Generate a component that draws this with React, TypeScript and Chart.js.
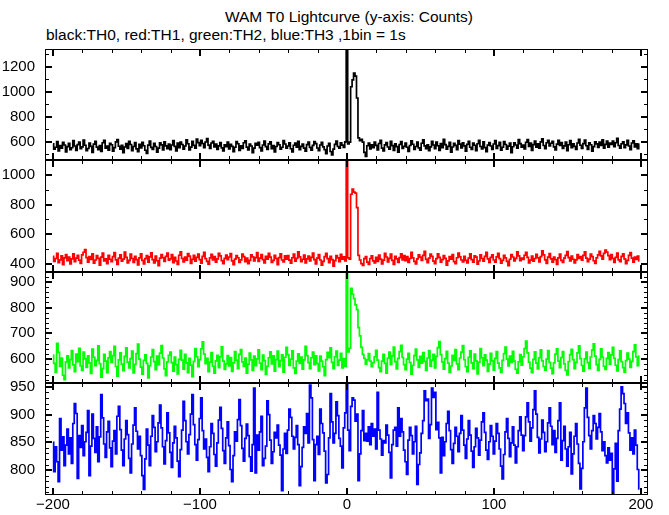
import React, { useEffect, useRef } from "react";
import { Chart, registerables } from "chart.js";

Chart.register(...registerables);

const TITLE = "WAM T0 Lightcurve (y-axis: Counts)";
const SUBTITLE = "black:TH0, red:TH1, green:TH2, blue:TH3 ,1bin = 1s";

const START_TIME = -200;
const BIN_COUNT = 400;
const times: number[] = Array.from({ length: BIN_COUNT }, (_, i) => START_TIME + i);

// TH0 (black) counts per 1 s bin, t = -200 .. 199
const th0: number[] = [
  583, 541, 556, 602, 527, 569, 548, 595, 574, 519, 561, 588, 537, 552, 609, 566, 531, 577, 598, 545,
  559, 613, 572, 528, 546, 590, 563, 514, 581, 604, 557, 536, 570, 523, 592, 611, 548, 565, 532, 587,
  576, 524, 553, 599, 618, 564, 540, 571, 512, 558, 585, 547, 603, 578, 529, 562, 594, 543, 521, 580,
  551, 596, 568, 532, 507, 573, 606, 555, 538, 587, 562, 516, 549, 591, 575, 534, 600, 567, 544, 582,
  537, 574, 610, 563, 526, 589, 552, 597, 578, 541, 566, 616, 584, 535, 557, 603, 571, 548, 622, 593,
  569, 611, 586, 552, 598, 625, 573, 546, 590, 604, 558, 581, 539, 567, 594, 551, 527, 576, 560, 598,
  542, 579, 563, 521, 556, 601, 584, 530, 568, 547, 592, 608, 557, 534, 581, 566, 513, 549, 587, 572,
  595, 553, 527, 574, 606, 561, 538, 583, 599, 545, 570, 519, 562, 593, 576, 540, 556, 610, 582, 548,
  566, 591, 544, 518, 572, 589, 557, 604, 536, 563, 581, 549, 524, 577, 598, 555, 533, 571, 602, 585,
  550, 528, 574, 596, 559, 537, 504, 566, 588, 522, 495, 541, 579, 605, 562, 548, 591, 573, 554, 599,
  6000, 582, 597, 1040, 1095, 1150, 1125, 950, 631, 608, 619, 597, 515, 482, 568, 590, 543, 576, 552, 598,
  571, 535, 586, 612, 549, 527, 575, 593, 558, 541, 604, 569, 530, 584, 561, 517, 578, 601, 546, 563,
  589, 556, 523, 570, 607, 580, 539, 562, 597, 551, 533, 588, 615, 567, 544, 576, 529, 559, 603, 574,
  545, 598, 568, 531, 585, 552, 620, 577, 540, 563, 596, 516, 558, 587, 571, 536, 609, 581, 550, 592,
  567, 525, 579, 603, 556, 538, 590, 572, 528, 584, 611, 562, 543, 599, 553, 521, 573, 594, 566, 539,
  582, 610, 547, 569, 595, 533, 556, 601, 578, 541, 565, 589, 512, 560, 592, 574, 549, 617, 585, 557,
  574, 542, 596, 618, 563, 589, 531, 577, 605, 556, 583, 548, 599, 624, 570, 545, 592, 611, 566, 588,
  603, 559, 535, 581, 612, 571, 594, 546, 567, 598, 529, 576, 609, 552, 584, 563, 538, 590, 620, 572,
  547, 585, 613, 568, 539, 592, 576, 524, 561, 600, 583, 554, 597, 571, 615, 548, 579, 606, 557, 589,
  578, 606, 561, 592, 627, 570, 548, 584, 599, 553, 575, 612, 566, 536, 590, 607, 559, 583, 544, 581,
];

// TH1 (red)
const th1: number[] = [
  452, 418, 437, 471, 409, 428, 455, 396, 441, 463, 423, 447, 401, 434, 468, 415, 439, 458, 426, 404,
  461, 479, 497, 443, 412, 450, 431, 469, 405, 427, 456, 438, 392, 446, 473, 421, 435, 403, 459, 432,
  415, 449, 476, 428, 398, 440, 462, 419, 433, 480, 445, 407, 425, 466, 437, 411, 452, 429, 394, 441,
  468, 424, 401, 436, 457, 413, 448, 475, 430, 408, 454, 422, 389, 439, 464, 442, 417, 451, 474, 426,
  435, 463, 409, 444, 420, 397, 459, 482, 437, 414, 446, 426, 470, 453, 404, 431, 458, 419, 445, 467,
  430, 406, 452, 478, 436, 418, 399, 441, 465, 427, 449, 412, 434, 471, 455, 423, 402, 438, 460, 429,
  447, 470, 421, 395, 433, 456, 442, 410, 428, 467, 450, 416, 439, 403, 425, 461, 448, 420, 443, 476,
  418, 439, 464, 429, 407, 451, 433, 472, 446, 411, 424, 458, 437, 396, 443, 469, 427, 414, 455, 432,
  457, 426, 405, 442, 466, 419, 438, 481, 448, 415, 432, 460, 408, 435, 453, 421, 444, 474, 430, 401,
  440, 463, 427, 392, 418, 449, 471, 436, 409, 452, 430, 386, 423, 457, 441, 416, 465, 432, 448, 420,
  6000, 441, 433, 870, 905, 885, 878, 780, 458, 427, 403, 390, 436, 449, 412, 398, 437, 455, 421, 408,
  444, 418, 460, 433, 401, 426, 472, 447, 414, 438, 467, 424, 397, 452, 435, 410, 443, 469, 428, 456,
  422, 449, 411, 437, 479, 441, 417, 400, 434, 462, 446, 425, 458, 485, 431, 409, 440, 466, 452, 419,
  403, 436, 468, 445, 412, 429, 457, 438, 393, 421, 450, 433, 463, 416, 402, 442, 474, 448, 427, 414,
  451, 425, 407, 439, 468, 430, 413, 455, 446, 399, 420, 461, 437, 419, 452, 478, 434, 410, 444, 462,
  427, 413, 448, 471, 436, 405, 424, 459, 441, 417, 389, 432, 464, 447, 420, 438, 482, 455, 423, 440,
  431, 459, 478, 444, 408, 426, 453, 419, 437, 465, 442, 414, 449, 488, 461, 428, 404, 446, 470, 435,
  412, 447, 430, 398, 441, 466, 425, 411, 439, 458, 484, 443, 421, 454, 432, 407, 428, 463, 437, 450,
  426, 458, 481, 440, 415, 433, 467, 449, 422, 404, 441, 462, 486, 455, 433, 472, 493, 480, 456, 429,
  463, 437, 410, 445, 474, 428, 416, 451, 469, 435, 402, 424, 458, 476, 440, 413, 447, 431, 453, 420,
];

// TH2 (green)
const th2: number[] = [
  615, 583, 548, 661, 626, 571, 604, 537, 520, 589, 612, 566, 598, 633, 577, 551, 619, 590, 642, 573,
  556, 627, 601, 568, 612, 585, 544, 639, 607, 574, 595, 651, 582, 530, 563, 618, 592, 547, 605, 629,
  587, 613, 649, 571, 534, 597, 624, 580, 555, 610, 643, 588, 566, 602, 631, 546, 579, 621, 658, 600,
  569, 541, 595, 616, 583, 527, 574, 608, 637, 590, 559, 611, 578, 623, 652, 604, 562, 536, 589, 614,
  627, 586, 553, 608, 578, 542, 599, 634, 596, 561, 618, 585, 547, 603, 576, 532, 591, 641, 609, 570,
  598, 640, 667, 619, 582, 603, 551, 588, 625, 572, 545, 593, 614, 567, 609, 647, 592, 560, 581, 613,
  573, 606, 552, 585, 629, 596, 563, 618, 637, 589, 571, 604, 545, 580, 623, 597, 556, 611, 574, 601,
  636, 584, 559, 615, 594, 540, 572, 605, 628, 581, 612, 553, 598, 631, 570, 594, 616, 549, 607, 645,
  617, 575, 600, 632, 566, 544, 592, 620, 583, 608, 561, 597, 649, 613, 586, 563, 605, 627, 578, 612,
  582, 554, 611, 592, 570, 536, 598, 626, 605, 643, 587, 563, 609, 631, 575, 596, 622, 566, 602, 571,
  6000, 628, 642, 875, 852, 835, 810, 792, 722, 690, 645, 618, 603, 580, 597, 621, 592, 570, 586, 609,
  634, 596, 567, 551, 592, 618, 583, 545, 604, 627, 579, 612, 646, 590, 562, 603, 629, 653, 606, 578,
  559, 600, 622, 587, 541, 576, 613, 639, 597, 568, 610, 584, 625, 591, 556, 604, 633, 572, 596, 618,
  566, 610, 644, 668, 617, 589, 561, 602, 630, 584, 548, 573, 614, 595, 637, 581, 559, 604, 627, 652,
  598, 570, 551, 607, 632, 585, 563, 619, 593, 542, 588, 641, 605, 574, 616, 596, 552, 580, 622, 593,
  557, 603, 629, 584, 566, 548, 595, 621, 646, 600, 573, 611, 587, 630, 592, 560, 545, 589, 617, 576,
  609, 641, 670, 624, 588, 565, 547, 599, 628, 584, 562, 605, 636, 593, 571, 557, 600, 633, 587, 565,
  543, 585, 619, 640, 592, 567, 606, 629, 581, 556, 538, 590, 617, 638, 598, 563, 587, 624, 651, 602,
  575, 553, 601, 627, 586, 564, 608, 635, 659, 611, 578, 556, 599, 640, 607, 572, 560, 603, 625, 580,
  616, 645, 603, 576, 554, 598, 632, 590, 567, 549, 594, 623, 600, 568, 591, 629, 655, 608, 574, 611,
];

// TH3 (blue)
const th3: number[] = [
  850, 797, 842, 815, 779, 893, 836, 860, 808, 845, 874, 829, 858, 812, 884, 920, 902, 785, 862, 841,
  880, 826, 851, 868, 907, 790, 843, 901, 857, 832, 878, 815, 860, 936, 894, 847, 823, 869, 888, 840,
  806, 852, 871, 829, 897, 915, 873, 836, 808, 856, 889, 864, 821, 795, 847, 881, 912, 870, 838, 861,
  826, 790, 765, 820, 874, 845, 808, 861, 898, 877, 833, 851, 885, 917, 876, 842, 811, 853, 903, 867,
  832, 805, 849, 879, 858, 816, 788, 837, 872, 924, 889, 851, 829, 864, 901, 936, 882, 846, 818, 855,
  893, 930, 871, 838, 856, 823, 797, 842, 884, 866, 828, 807, 849, 890, 913, 875, 835, 812, 858, 887,
  844, 801, 779, 826, 869, 852, 891, 927, 880, 839, 816, 857, 883, 862, 824, 798, 846, 948, 795, 863,
  836, 869, 897, 808, 821, 843, 925, 900, 854, 812, 833, 868, 858, 881, 845, 827, 763, 838, 866, 830,
  872, 910, 895, 861, 838, 859, 880, 846, 772, 806, 841, 878, 866, 902, 849, 953, 930, 855, 781, 846,
  861, 828, 910, 884, 867, 834, 777, 792, 858, 938, 887, 849, 866, 923, 898, 857, 843, 804, 876, 903,
  975, 872, 835, 915, 930, 926, 888, 901, 781, 829, 871, 907, 853, 866, 852, 878, 846, 884, 861, 874,
  838, 940, 872, 856, 827, 853, 849, 881, 863, 832, 786, 846, 872, 877, 843, 912, 861, 893, 869, 836,
  815, 792, 854, 877, 862, 829, 851, 879, 774, 810, 831, 866, 889, 943, 925, 928, 857, 882, 948, 931,
  940, 873, 886, 858, 795, 859, 826, 851, 884, 906, 871, 837, 812, 848, 877, 861, 833, 866, 898, 872,
  845, 821, 856, 889, 863, 834, 805, 842, 875, 858, 827, 854, 887, 903, 868, 836, 819, 851, 880, 861,
  829, 852, 884, 866, 838, 807, 784, 828, 869, 893, 857, 824, 849, 878, 845, 813, 842, 871, 896, 863,
  835, 862, 896, 921, 887, 852, 876, 909, 943, 901, 859, 831, 856, 890, 868, 833, 851, 885, 912, 879,
  846, 871, 832, 857, 889, 921, 818, 853, 879, 838, 807, 842, 868, 793, 829, 861, 884, 847, 812, 766,
  803, 851, 912, 948, 895, 862, 838, 871, 898, 884, 856, 877, 902, 869, 835, 851, 826, 813, 840, 818,
  830, 755, 802, 848, 780, 871, 910, 950, 938, 920, 884, 903, 867, 836, 858, 829, 872, 845, 801, 766,
];

const xTickLabels: number[] = [-200, -100, 0, 100, 200];
const th0TickLabels: number[] = [600, 800, 1000, 1200];
const th1TickLabels: number[] = [400, 600, 800, 1000];
const th2TickLabels: number[] = [600, 700, 800, 900];
const th3TickLabels: number[] = [800, 850, 900, 950];

// ---- layout / style (not data) ----
const W = 669;
const H = 515;
const PLOT_LEFT = 45;
const PLOT_RIGHT = 648;
const PAD = 15;
const X_AXIS_H = 20;
const X_MIN = -205.4;
const X_MAX = 204.8;
const FONT = '"Liberation Sans", Arial, Helvetica, sans-serif';

type PanelCfg = {
  values: number[];
  color: string;
  min: number;
  max: number;
  ticks: number[];
  minor: number;
  top: number;
  bottom: number;
  showX: boolean;
};

const PANELS: PanelCfg[] = [
  { values: th0, color: "#000000", min: 454, max: 1342, ticks: th0TickLabels, minor: 100, top: 49, bottom: 160, showX: false },
  { values: th1, color: "#ff0000", min: 346, max: 1101, ticks: th1TickLabels, minor: 100, top: 160, bottom: 272, showX: false },
  { values: th2, color: "#00ff00", min: 507, max: 938, ticks: th2TickLabels, minor: 20, top: 272, bottom: 383, showX: false },
  { values: th3, color: "#0000ff", min: 755, max: 957, ticks: th3TickLabels, minor: 10, top: 383, bottom: 495, showX: true },
];

const fmt = (v: number) => (v < 0 ? "\u2212" + Math.abs(v) : String(v));

function makeFramePlugin(cfg: PanelCfg) {
  return {
    id: "frame",
    afterDatasetsDraw(chart: any) {
      const { ctx, chartArea: a, scales } = chart;
      const xs = scales.x;
      const ys = scales.y;
      ctx.save();
      ctx.strokeStyle = "#000";
      ctx.lineWidth = 1;
      ctx.strokeRect(a.left + 0.5, a.top + 0.5, a.right - a.left - 1, a.bottom - a.top - 1);
      for (let v = -200; v <= 200; v += 20) {
        const major = v % 100 === 0;
        const px = Math.round(xs.getPixelForValue(v)) + (major ? 0 : 0.5);
        const len = major ? 7 : 4;
        ctx.lineWidth = major ? 2 : 1;
        ctx.beginPath();
        ctx.moveTo(px, a.top);
        ctx.lineTo(px, a.top + len);
        ctx.moveTo(px, a.bottom);
        ctx.lineTo(px, a.bottom - len);
        ctx.stroke();
      }
      const start = Math.ceil(cfg.min / cfg.minor) * cfg.minor;
      for (let v = start; v <= cfg.max; v += cfg.minor) {
        const major = cfg.ticks.indexOf(v) >= 0;
        const py = Math.round(ys.getPixelForValue(v)) + (major ? 0 : 0.5);
        const len = major ? 7 : 4;
        ctx.lineWidth = major ? 2 : 1;
        ctx.beginPath();
        ctx.moveTo(a.left, py);
        ctx.lineTo(a.left + len, py);
        ctx.moveTo(a.right, py);
        ctx.lineTo(a.right - len, py);
        ctx.stroke();
      }
      ctx.restore();
    },
  };
}

function canvasGeom(cfg: PanelCfg) {
  const top = cfg.top - PAD;
  const height = cfg.bottom - cfg.top + PAD + (cfg.showX ? X_AXIS_H : PAD);
  return { top, height };
}

export default function App() {
  const refs = useRef<(HTMLCanvasElement | null)[]>([]);

  useEffect(() => {
    const charts: Chart[] = [];
    PANELS.forEach((cfg, idx) => {
      const canvas = refs.current[idx];
      if (!canvas) return;
      const pts = cfg.values.map((v, i) => ({ x: times[i], y: v }));
      const chart = new Chart(canvas, {
        type: "line",
        data: {
          datasets: [
            {
              data: pts,
              borderColor: cfg.color,
              backgroundColor: cfg.color,
              borderWidth: 1.7,
              pointRadius: 0,
              stepped: "middle",
              fill: false,
              clip: 0,
            } as any,
          ],
        },
        options: {
          animation: false,
          responsive: false,
          maintainAspectRatio: false,
          events: [],
          parsing: false,
          layout: {
            padding: { left: 0, right: W - PLOT_RIGHT, top: PAD, bottom: cfg.showX ? 0 : PAD },
          },
          plugins: {
            legend: { display: false },
            tooltip: { enabled: false },
          },
          scales: {
            x: {
              type: "linear",
              min: X_MIN,
              max: X_MAX,
              display: cfg.showX,
              grid: { display: false, drawTicks: false },
              border: { display: false },
              afterBuildTicks: (s: any) => {
                s.ticks = xTickLabels.map((v) => ({ value: v }));
              },
              afterFit: (s: any) => {
                s.height = cfg.showX ? X_AXIS_H : 0;
                s.paddingLeft = 0;
                s.paddingRight = 0;
              },
              ticks: {
                autoSkip: false,
                maxRotation: 0,
                minRotation: 0,
                padding: 1,
                color: "#000",
                font: { family: FONT, size: 15 },
                callback: (v: any) => fmt(Number(v)),
              },
            },
            y: {
              type: "linear",
              min: cfg.min,
              max: cfg.max,
              grid: { display: false, drawTicks: false },
              border: { display: false },
              afterBuildTicks: (s: any) => {
                s.ticks = cfg.ticks.map((v) => ({ value: v }));
              },
              afterFit: (s: any) => {
                s.width = PLOT_LEFT;
                s.paddingTop = 0;
                s.paddingBottom = 0;
              },
              ticks: {
                autoSkip: false,
                padding: 10,
                color: "#000",
                font: { family: FONT, size: 15 },
                callback: (v: any) => fmt(Number(v)),
              },
            },
          },
        } as any,
        plugins: [makeFramePlugin(cfg)],
      });
      charts.push(chart);
    });
    return () => charts.forEach((c) => c.destroy());
  }, []);

  return (
    <div
      style={{
        position: "absolute",
        left: 0,
        top: 0,
        width: W,
        height: H,
        background: "#fff",
        overflow: "hidden",
        fontFamily: FONT,
        color: "#000",
      }}
    >
      <div
        style={{
          position: "absolute",
          left: 149,
          top: 9,
          width: 400,
          textAlign: "center",
          fontSize: 15.5,
          lineHeight: "16px",
          whiteSpace: "nowrap",
        }}
      >
        {TITLE}
      </div>
      <div
        style={{
          position: "absolute",
          left: 46,
          top: 27,
          fontSize: 15.5,
          lineHeight: "16px",
          whiteSpace: "nowrap",
        }}
      >
        {SUBTITLE}
      </div>
      {PANELS.map((cfg, idx) => {
        const g = canvasGeom(cfg);
        return (
          <canvas
            key={idx}
            ref={(el) => {
              refs.current[idx] = el;
            }}
            width={W}
            height={g.height}
            style={{ position: "absolute", left: 0, top: g.top, width: W, height: g.height }}
          />
        );
      })}
    </div>
  );
}
